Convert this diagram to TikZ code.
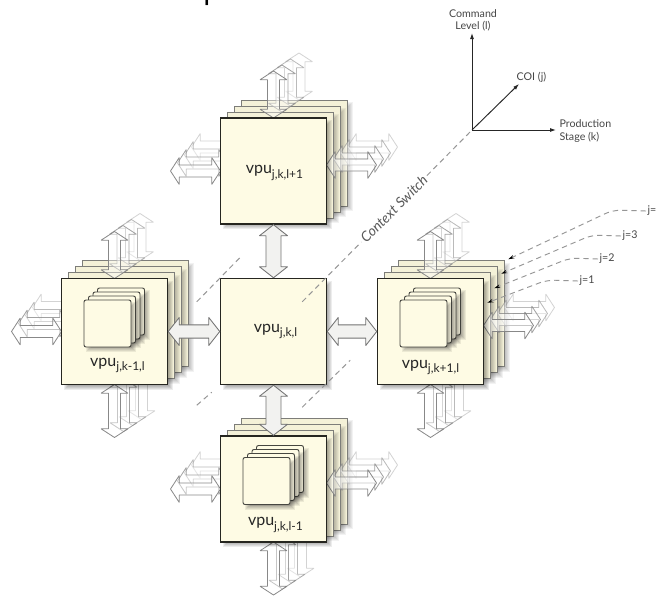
\documentclass[tikz,border=0pt]{standalone}
\usepackage{fontspec}
\setmainfont{Liberation Sans}
\newfontfamily\handfont{Lato}
\usetikzlibrary{calc,arrows.meta}

\definecolor{cream}{RGB}{254,251,228}
\definecolor{creamback}{RGB}{244,241,216}
\definecolor{edge}{RGB}{38,38,32}
\definecolor{ghostline}{RGB}{130,130,130}
\definecolor{connline}{RGB}{115,115,115}
\definecolor{connfill}{RGB}{242,242,240}
\definecolor{dashgray}{RGB}{150,150,150}
\definecolor{labelgray}{RGB}{70,70,70}

% double-headed block arrow from #2 to #3
% #4 head length, #5 head half width, #6 shaft half width
\newcommand\blockarrow[6][]{%
  \draw[#1] (#2)
    -- ($(#2)!#4!(#3)!#5!90:(#3)$)
    -- ($(#2)!#4!(#3)!#6!90:(#3)$)
    -- ($(#3)!#4!(#2)!#6!-90:(#2)$)
    -- ($(#3)!#4!(#2)!#5!-90:(#2)$)
    -- (#3)
    -- ($(#3)!#4!(#2)!#5!90:(#2)$)
    -- ($(#3)!#4!(#2)!#6!90:(#2)$)
    -- ($(#2)!#4!(#3)!#6!-90:(#3)$)
    -- ($(#2)!#4!(#3)!#5!-90:(#3)$)
    -- cycle;}

% soft shadow to the lower right of a square with centre #2 and half side #3
\newcommand\softshadow[3][0.07]{%
  \foreach \k in {0,...,4}{%
    \fill[black,opacity=#1] ($(#2)+(-#3+6-\k,-#3+6-\k)$) rectangle ($(#2)+(#3+1+\k,#3+1+\k)$);}}

% three copies stacked behind a unit
\newcommand\backlayers[1]{%
  \foreach \i in {3,2,1}{%
    \coordinate (#1c\i) at ($(#1c)+(7*\i,-6*\i)$);
    \softshadow[0.05]{#1c\i}{53}
    \node[backlayer] (#1-l\i) at (#1c\i) {};}}

% small stack of four squares inside a unit
\newcommand\ministack[1]{%
  \foreach \i in {3,2,1,0}{%
    \coordinate (#1m\i) at ($(#1c)+(-7+4.5*\i,-8-4*\i)$);
    \softshadow[0.07]{#1m\i}{23.5}
    \node[minisq] (#1-m\i) at (#1m\i) {};}}

% faded outgoing links, one per layer
\newcommand\ghostup[1]{%
  \foreach \i [evaluate=\i as \op using 0.95-0.2*\i] in {3,2,1,0}{%
    \coordinate (#1gu\i-a) at ($(#1c)+(8.5*\i,-53-6*\i)$);
    \coordinate (#1gu\i-b) at ($(#1gu\i-a)+(0,-47)$);
    \blockarrow[ghost,draw opacity=\op]{#1gu\i-a}{#1gu\i-b}{6.5pt}{10pt}{4.5pt}}}
\newcommand\ghostdown[1]{%
  \foreach \i [evaluate=\i as \op using 0.95-0.2*\i] in {3,2,1,0}{%
    \coordinate (#1gd\i-a) at ($(#1c)+(9*\i,53-6*\i)$);
    \coordinate (#1gd\i-b) at ($(#1gd\i-a)+(0,53)$);
    \blockarrow[ghost,draw opacity=\op]{#1gd\i-a}{#1gd\i-b}{6.5pt}{10pt}{4.5pt}}}
\newcommand\ghostleft[1]{%
  \foreach \i [evaluate=\i as \op using 0.95-0.2*\i] in {3,2,1,0}{%
    \coordinate (#1gl\i-a) at ($(#1c)+(-53+7*\i,-8*\i)$);
    \coordinate (#1gl\i-b) at ($(#1gl\i-a)+(-50,0)$);
    \blockarrow[ghost,draw opacity=\op]{#1gl\i-a}{#1gl\i-b}{6.5pt}{10pt}{4.5pt}}}
\newcommand\ghostright[1]{%
  \foreach \i [evaluate=\i as \op using 0.95-0.2*\i] in {3,2,1,0}{%
    \coordinate (#1gr\i-a) at ($(#1c)+(53+7*\i,-6-6*\i)$);
    \coordinate (#1gr\i-b) at ($(#1gr\i-a)+(50,0)$);
    \blockarrow[ghost,draw opacity=\op]{#1gr\i-a}{#1gr\i-b}{6.5pt}{10pt}{4.5pt}}}

\newcommand\vpusub[1]{\raisebox{-0.55ex}{\fontsize{9}{10}\selectfont #1}}

\tikzset{
  vpubox/.style={draw=edge, line width=1.1pt, fill=cream, minimum width=79.5pt, minimum height=79.5pt, inner sep=0pt},
  backlayer/.style={draw=edge!60, line width=0.6pt, fill=creamback, minimum width=79.5pt, minimum height=79.5pt, inner sep=0pt},
  minisq/.style={draw=edge!85, line width=0.7pt, fill=cream, rounded corners=1.5pt, minimum width=35.25pt, minimum height=35.25pt, inner sep=0pt},
  vpulabel/.style={font=\handfont\fontsize{12}{14}\selectfont, text=black!85, inner sep=1pt},
  ghost/.style={draw=ghostline, line width=0.6pt, fill=white, fill opacity=0.4, line join=round},
  conn/.style={draw=connline, line width=0.65pt, fill=connfill, line join=round},
  depth/.style={draw=dashgray, line width=0.75pt, dash pattern=on 4pt off 3pt},
  axis/.style={draw=black!85, line width=0.7pt, -{Latex[length=4.5pt,width=3pt]}},
  axlabel/.style={font=\handfont\fontsize{8}{9.5}\selectfont, text=labelgray, inner sep=1pt},
  jline/.style={draw=dashgray, line width=0.7pt, dash pattern=on 4pt off 3pt, rounded corners=6pt, -{Stealth[length=4.5pt,width=2.6pt,black]}},
  jlabel/.style={font=\handfont\fontsize{8}{9}\selectfont, text=labelgray, inner sep=1pt, anchor=west},
  ctx/.style={font=\handfont\itshape\fontsize{10.5}{12}\selectfont, text=black!65, fill=white, inner sep=1.5pt, rotate=45},
}

\begin{document}
\begin{tikzpicture}[x=0.75pt,y=-0.75pt]
\fill[white] (0,0) rectangle (658,596);
\useasboundingbox (0,0) rectangle (658,596);

\node[anchor=base west, inner sep=0pt, font=\fontsize{22}{24}\selectfont] (caption) at (-2,-1) {e-dimensional space.};

% unit centres
\coordinate (Tc) at (273.5,171);
\coordinate (Cc) at (273.5,331.5);
\coordinate (Bc) at (273.5,489);
\coordinate (Lc) at (114.5,331.5);
\coordinate (Rc) at (430.5,331.5);

% upper unit
\backlayers{T}
\ghostup{T}\ghostleft{T}\ghostright{T}
\softshadow{Tc}{53}
\node[vpubox] (T) at (Tc) {};
\node[vpulabel] (T-lab) at ($(Tc)+(1,2)$) {vpu\vpusub{j,k,l+1}};

% left unit
\backlayers{L}
\ghostup{L}\ghostleft{L}\ghostdown{L}
\softshadow{Lc}{53}
\node[vpubox] (L) at (Lc) {};
\ministack{L}
\node[vpulabel] (L-lab) at ($(Lc)+(3,34)$) {vpu\vpusub{j,k-1,l}};

% right unit
\backlayers{R}
\ghostup{R}\ghostright{R}\ghostdown{R}
\softshadow{Rc}{53}
\node[vpubox] (R) at (Rc) {};
\ministack{R}
\node[vpulabel] (R-lab) at ($(Rc)+(0,36)$) {vpu\vpusub{j,k+1,l}};

% lower unit
\backlayers{B}
\ghostleft{B}\ghostright{B}\ghostdown{B}
\softshadow{Bc}{53}
\node[vpubox] (B) at (Bc) {};
\ministack{B}
\node[vpulabel] (B-lab) at ($(Bc)+(2,36)$) {vpu\vpusub{j,k,l-1}};

% centre unit
\softshadow{Cc}{53}
\node[vpubox] (C) at (Cc) {};
\node[vpulabel] (C-lab) at ($(Cc)+(2,0)$) {vpu\vpusub{j,k,l}};

% axes
\coordinate (O) at (472,130);
\coordinate (axl) at (472,33);
\coordinate (axk) at (556,130);
\coordinate (axj) at (519,84);

% depth lines through the corners of the centre unit
\coordinate (nw1) at ($(C.north west)+(-23,24)$);
\coordinate (nw2) at ($(C.north west)+(21,-21)$);
\coordinate (ne1) at ($(C.north east)+(-25,24)$);
\coordinate (sw1) at ($(C.south west)+(-23,20)$);
\coordinate (sw2) at ($(C.south west)+(-8,7)$);
\coordinate (se1) at ($(C.south east)+(-25,22)$);
\coordinate (se2) at ($(C.south east)+(23,-25)$);
\draw[depth] (nw1) -- (nw2);
\draw[depth] (sw1) -- (sw2);
\draw[depth] (se1) -- (se2);
\draw[depth] (ne1) -- (O);
\node[ctx] (ctx) at ($(ne1)!0.54!(O)$) {Context Switch};

% links between neighbouring units
\blockarrow[conn]{C.north}{T.south}{8.25pt}{10.5pt}{5.6pt}
\blockarrow[conn]{C.south}{B.north}{8.25pt}{10.5pt}{5.6pt}
\blockarrow[conn]{L.east}{C.west}{8.25pt}{10.5pt}{5pt}
\blockarrow[conn]{C.east}{R.west}{8.25pt}{10.5pt}{5pt}

% layer index call-outs
\foreach \i/\kx/\ky/\lx/\txt in {0/547/280/578/{j=1}, 1/570/258/598/{j=2}, 2/592/235/621/{j=3}, 3/613/210/646/{j=}}{
  \node[jlabel] (jl\i) at (\lx,\ky+1) {\txt};
  \coordinate (jk\i) at (\kx,\ky);
  \coordinate (jt\i) at ($(R.north east)+(3+7*\i,25-14.5*\i)$);
  \draw[jline] (jl\i.west) -- (jk\i) -- (jt\i);
}

\draw[axis] (O) -- (axl);
\draw[axis] (O) -- (axk);
\draw[axis] (O) -- (axj);
\node[axlabel, align=center] (lab-l) at (473,20.5) {Command\\Level (l)};
\node[axlabel, align=left, anchor=west] (lab-k) at (558,131) {Production\\Stage (k)};
\node[axlabel, anchor=west] (lab-j) at (515,77) {COI (j)};
\end{tikzpicture}
\end{document}
